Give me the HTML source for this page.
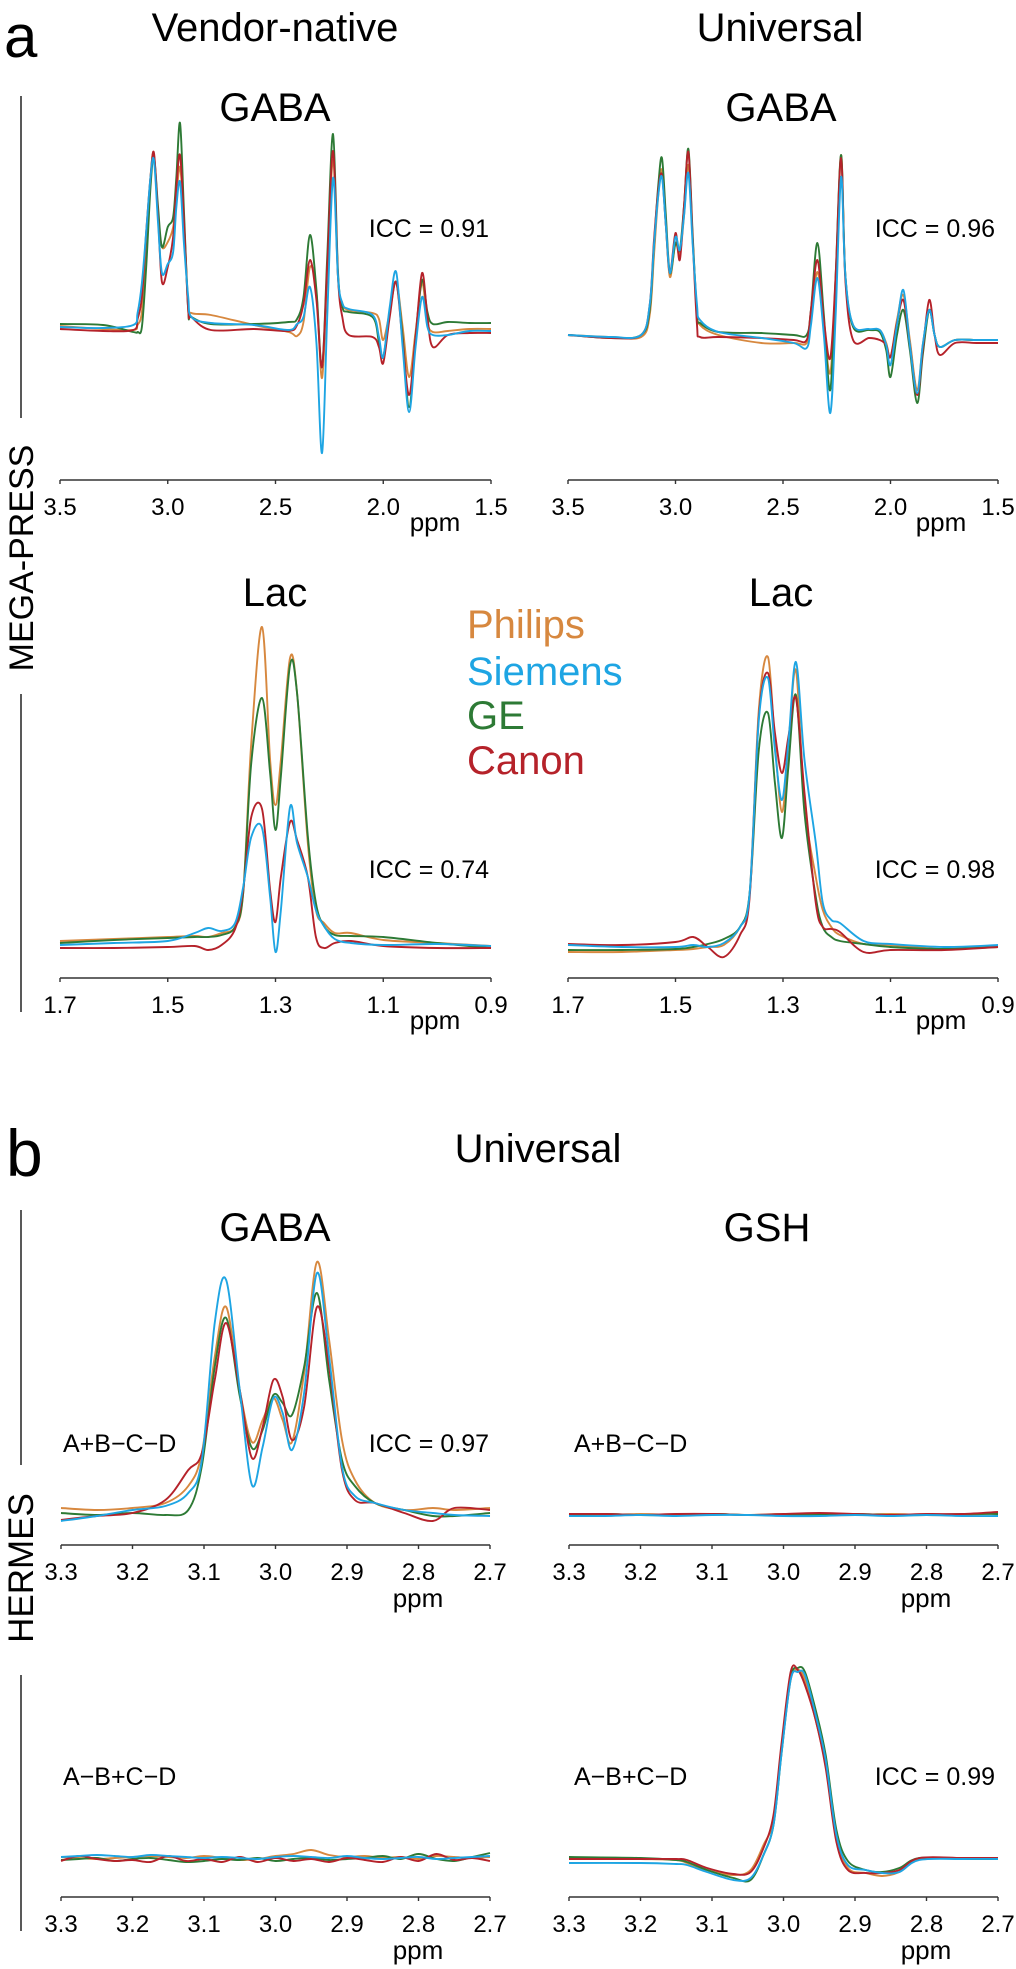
<!DOCTYPE html>
<html><head><meta charset="utf-8"><style>
html,body{margin:0;padding:0;background:#fff;}
svg{display:block;font-family:"Liberation Sans",sans-serif;}
</style></head><body>
<svg id="fig" width="1016" height="1969" viewBox="0 0 1016 1969" xmlns="http://www.w3.org/2000/svg">
<text x="4" y="57" font-size="60">a</text>
<text x="275" y="41" font-size="40" text-anchor="middle">Vendor-native</text>
<text x="780" y="41" font-size="40" text-anchor="middle">Universal</text>
<text x="275" y="121" font-size="40" text-anchor="middle">GABA</text>
<text x="781" y="121" font-size="40" text-anchor="middle">GABA</text>
<text x="275" y="606" font-size="40" text-anchor="middle">Lac</text>
<text x="781" y="606" font-size="40" text-anchor="middle">Lac</text>
<line x1="21" y1="96" x2="21" y2="418" stroke="#222" stroke-width="1.5"/>
<line x1="21" y1="694" x2="21" y2="1012" stroke="#222" stroke-width="1.5"/>
<text transform="translate(33,558) rotate(-90)" font-size="34" text-anchor="middle">MEGA-PRESS</text>
<g>
<text x="467" y="638" font-size="40" fill="#d7883f">Philips</text>
<text x="467" y="685" font-size="40" fill="#1ea5e3">Siemens</text>
<text x="467" y="729" font-size="40" fill="#2d7a35">GE</text>
<text x="467" y="774" font-size="40" fill="#b5222a">Canon</text>
</g>
<text x="489" y="237" font-size="25" text-anchor="end">ICC = 0.91</text>
<text x="995" y="237" font-size="25" text-anchor="end">ICC = 0.96</text>
<text x="489" y="878" font-size="25" text-anchor="end">ICC = 0.74</text>
<text x="995" y="878" font-size="25" text-anchor="end">ICC = 0.98</text>
<text x="6" y="1176" font-size="66">b</text>
<text x="538" y="1162" font-size="40" text-anchor="middle">Universal</text>
<text x="275" y="1241" font-size="40" text-anchor="middle">GABA</text>
<text x="767" y="1241" font-size="40" text-anchor="middle">GSH</text>
<line x1="21" y1="1210" x2="21" y2="1465" stroke="#222" stroke-width="1.5"/>
<line x1="21" y1="1675" x2="21" y2="1931" stroke="#222" stroke-width="1.5"/>
<text transform="translate(33,1568) rotate(-90)" font-size="35" text-anchor="middle">HERMES</text>
<text x="63" y="1452" font-size="25">A+B−C−D</text>
<text x="489" y="1452" font-size="25" text-anchor="end">ICC = 0.97</text>
<text x="574" y="1452" font-size="25">A+B−C−D</text>
<text x="63" y="1785" font-size="25">A−B+C−D</text>
<text x="574" y="1785" font-size="25">A−B+C−D</text>
<text x="995" y="1785" font-size="25" text-anchor="end">ICC = 0.99</text>
</svg>
<script>
// ---- data (ppm positions and intensities in a.u. above baseline) ----
const vendors = ["Philips","GE","Canon","Siemens"];
const vendorColors = ["#d7883f","#2d7a35","#b5222a","#1ea5e3"];
const ticksGaba = [3.5,3.0,2.5,2.0,1.5];
const ticksLac = [1.7,1.5,1.3,1.1,0.9];
const ticksHermes = [3.3,3.2,3.1,3.0,2.9,2.8,2.7];

const a1Ppm = [3.50,3.30,3.16,3.14,3.12,3.10,3.08,3.064,3.045,3.027,3.00,2.975,2.96,2.943,2.925,2.905,2.89,2.80,2.60,2.44,2.40,2.37,2.34,2.31,2.284,2.26,2.233,2.21,2.19,2.16,2.05,2.02,2.00,1.97,1.94,1.91,1.88,1.85,1.82,1.795,1.77,1.70,1.60,1.50];
const a1Philips = [1,-2,-3,2,15,70,150,172,110,80,85,100,130,160,107,24,14,12,2,-5,-9,5,60,34,-51,55,167,50,24,17,14,8,-13,15,45,0,-50,-5,44,5,-5,-4,-2,-2];
const a1GE = [3,2,-5,-5,0,60,140,170,120,80,100,110,150,204,117,17,10,3,3,5,8,30,92,37,-40,70,193,55,20,15,10,-15,-30,15,45,-10,-80,-10,47,15,3,5,4,4];
const a1Canon = [-2,-4,-3,8,30,95,150,174,110,45,60,90,140,172,107,17,10,-3,-2,-4,2,23,67,27,-40,60,176,50,10,-8,-10,-20,-36,10,45,-15,-68,-10,54,10,-20,-8,-6,-6];
const a1Siemens = [0,-1,2,14,44,95,150,167,104,54,63,75,120,145,84,30,10,4,2,-3,3,10,40,-16,-126,10,149,50,24,18,12,-10,-30,20,55,-20,-85,-20,30,0,-8,-8,-4,-4];

const a2Ppm = [3.50,3.30,3.16,3.12,3.10,3.08,3.063,3.045,3.026,3.00,2.98,2.96,2.94,2.92,2.90,2.886,2.80,2.60,2.45,2.39,2.37,2.34,2.31,2.28,2.255,2.23,2.21,2.174,2.10,2.05,2.02,2.00,1.97,1.94,1.91,1.876,1.85,1.82,1.795,1.77,1.70,1.60,1.50];
const a2Philips = [0,-2,-2,20,80,140,165,110,58,92,80,120,170,95,25,10,0,-8,-8,-8,15,63,10,-38,50,180,60,10,5,5,-8,-22,15,40,-5,-55,-10,25,0,-12,-5,-5,-5];
const a2GE = [0,-3,0,25,90,150,177,120,62,92,85,130,186,100,20,12,3,2,0,0,25,92,20,-55,60,180,60,8,5,3,-15,-42,0,25,-15,-68,-20,25,0,-12,-5,-5,-5];
const a2Canon = [0,-3,0,30,95,145,160,110,62,102,75,130,183,95,10,-2,-2,-3,-5,-5,25,75,15,-23,60,177,55,-5,-3,-5,-10,-22,12,35,-10,-60,-15,35,0,-20,-8,-8,-8];
const a2Siemens = [0,-2,0,30,90,140,158,110,62,98,85,120,162,90,30,15,3,-3,-8,-13,10,57,0,-78,20,158,60,10,6,5,-10,-30,10,45,-10,-58,-10,25,0,-12,-5,-5,-5];

const b1Ppm = [1.70,1.60,1.50,1.45,1.425,1.40,1.375,1.36,1.345,1.325,1.31,1.30,1.29,1.273,1.26,1.24,1.225,1.21,1.19,1.16,1.10,1.00,0.90];
const b1Philips = [2,4,6,7,6,10,16,50,200,316,183,138,183,285,250,100,33,20,10,10,3,0,-3];
const b1GE = [0,3,5,6,6,8,16,50,180,245,170,113,167,278,250,107,40,17,8,7,6,0,-5];
const b1Canon = [-5,-5,-4,-3,-7,-2,14,53,126,134,53,21,66,121,103,66,6,-5,0,2,-3,-5,-5];
const b1Siemens = [-2,0,2,10,15,12,20,56,106,115,46,-9,33,136,100,66,33,17,4,0,-2,-1,-3];

const b2Ppm = [1.70,1.60,1.50,1.467,1.44,1.41,1.38,1.362,1.345,1.328,1.315,1.302,1.29,1.276,1.26,1.239,1.226,1.21,1.194,1.15,1.10,1.00,0.90];
const b2Philips = [-5,-5,-3,-2,0,2,20,54,237,290,204,135,197,277,143,70,37,20,12,3,2,-2,1];
const b2GE = [-3,-3,-2,0,3,8,20,54,197,234,164,109,180,252,134,50,20,10,6,3,0,-2,0];
const b2Canon = [3,2,5,10,0,-10,12,50,230,274,214,174,210,249,154,44,20,18,15,-5,-3,-3,0];
const b2Siemens = [2,0,0,2,0,4,20,54,227,269,197,147,204,285,187,104,44,27,24,6,3,0,2];

const c1Ppm = [3.30,3.25,3.20,3.154,3.122,3.103,3.085,3.069,3.05,3.033,3.018,3.003,2.99,2.977,2.96,2.942,2.925,2.907,2.889,2.861,2.82,2.78,2.75,2.70];
const c1Philips = [5,3,5,10,27,60,156,206,123,71,93,115,93,71,140,251,173,73,33,10,3,5,3,5];
const c1GE = [0,-2,0,-2,3,47,146,195,117,65,83,118,110,98,146,220,133,53,27,10,3,-3,-3,0];
const c1Canon = [-7,-3,0,13,43,60,133,190,123,55,86,133,116,73,106,206,146,43,13,10,0,-8,5,3];
const c1Siemens = [-8,-3,3,7,20,53,190,233,123,28,66,115,100,63,120,240,156,46,17,10,3,0,-2,-3];

const c2Ppm = [3.30,3.25,3.20,3.15,3.10,3.05,3.00,2.95,2.90,2.85,2.80,2.75,2.70];
const c2Philips = [1,0,1,0,1,0,1,0,0,1,0,0,2];
const c2GE = [0,1,0,0,1,0,0,0,1,0,0,1,1];
const c2Canon = [1,1,0,1,1,0,1,2,1,0,1,1,3];
const c2Siemens = [-1,-1,0,-1,0,0,-1,-1,0,-1,0,-1,-1];

const c3Ppm = [3.300,3.275,3.250,3.225,3.200,3.175,3.150,3.125,3.100,3.075,3.050,3.025,3.000,2.975,2.950,2.925,2.900,2.875,2.850,2.825,2.800,2.775,2.750,2.725,2.700];
const c3Philips = [1,0,-1,0,1,2,1,0,2,0,-2,-1,2,4,8,3,1,2,0,1,-1,2,1,0,1];
const c3GE = [-2,-1,0,-3,-1,0,-2,-4,-3,-1,-2,0,-3,-1,0,-2,-1,0,2,-1,4,-1,-3,1,5];
const c3Canon = [-3,2,-1,-3,-2,-4,2,-3,-1,-4,1,-4,0,-3,-1,-4,0,-2,-4,1,-3,4,-2,0,-3];
const c3Siemens = [1,2,3,2,1,3,2,1,0,1,0,-1,1,2,1,0,2,0,-1,0,1,-1,0,1,2];

const c4Ppm = [3.30,3.20,3.15,3.135,3.107,3.07,3.046,3.028,3.014,3.003,2.99,2.98,2.97,2.955,2.941,2.926,2.91,2.885,2.862,2.838,2.81,2.75,2.70];
const c4Philips = [2,1,0,-3,-10,-15,-10,15,40,110,180,190,180,140,95,25,-8,-13,-16,-12,1,2,2];
const c4GE = [3,2,0,-2,-10,-18,-20,5,35,105,182,192,188,150,105,30,-1,-10,-12,-8,2,1,1];
const c4Canon = [1,1,1,0,-8,-14,-12,12,45,115,188,190,175,140,92,18,-10,-13,-13,-10,2,2,2];
const c4Siemens = [-3,-3,-4,-5,-12,-20,-18,5,35,105,180,188,185,145,100,25,-5,-10,-13,-12,0,1,1];

// ---- drawing ----
const NS = "http://www.w3.org/2000/svg";
const svg = document.getElementById("fig");
function mk(tag, attrs){ const e=document.createElementNS(NS,tag); for(const k in attrs) e.setAttribute(k,attrs[k]); return e; }

function makeX(x0,x1,p0,p1){ return p => x0 + (p0 - p)/(p0 - p1)*(x1 - x0); }
function makeY(base){ return v => base - v; }

function smoothPath(pts){
  let d = "M"+pts[0][0].toFixed(2)+","+pts[0][1].toFixed(2);
  for(let i=0;i<pts.length-1;i++){
    const p0=pts[i-1]||pts[i], p1=pts[i], p2=pts[i+1], p3=pts[i+2]||pts[i+1];
    const c1x=p1[0]+(p2[0]-p0[0])/6, c1y=p1[1]+(p2[1]-p0[1])/6;
    const c2x=p2[0]-(p3[0]-p1[0])/6, c2y=p2[1]-(p3[1]-p1[1])/6;
    d+=" C"+c1x.toFixed(2)+","+c1y.toFixed(2)+" "+c2x.toFixed(2)+","+c2y.toFixed(2)+" "+p2[0].toFixed(2)+","+p2[1].toFixed(2);
  }
  return d;
}

function drawPlot(name, cfg, ppm, seriesList, ticks){
  const g = mk("g",{});
  
  
  svg.appendChild(g);
  const X = makeX(cfg.x0,cfg.x1,cfg.p0,cfg.p1);
  const Y = makeY(cfg.base);
  // axis
  const ax = mk("line",{x1:cfg.x0,y1:cfg.axisY,x2:cfg.x1,y2:cfg.axisY,stroke:"#333","stroke-width":1.4});
  
  
  g.appendChild(ax);
  ticks.forEach(t=>{
    const tx = X(t);
    const tl = mk("line",{x1:tx,y1:cfg.axisY,x2:tx,y2:cfg.axisY+4,stroke:"#333","stroke-width":1.4});
    
    
    g.appendChild(tl);
    const lb = mk("text",{x:tx,y:cfg.axisY+35,"font-size":24,"text-anchor":"middle"});
    lb.textContent = t.toFixed(1);
    
    
    g.appendChild(lb);
  });
  const pp = mk("text",{x:cfg.ppmX,y:cfg.axisY+cfg.ppmDy,"font-size":26,"text-anchor":"middle"});
  pp.textContent = "ppm";
  
  
  g.appendChild(pp);
  seriesList.forEach((vals,i)=>{
    const pts = ppm.map((p,j)=>[X(p),Y(vals[j])]);
    const path = mk("path",{d:smoothPath(pts),fill:"none",stroke:vendorColors[i],"stroke-width":1.9,"stroke-linejoin":"round"});
    
    
    g.appendChild(path);
  });
}

drawPlot("gaba-vendor-native-plot",{x0:60,x1:491,p0:3.5,p1:1.5,base:327,axisY:480,ppmX:435,ppmDy:51},a1Ppm,[a1Philips,a1GE,a1Canon,a1Siemens],ticksGaba);
drawPlot("gaba-universal-plot",{x0:568,x1:998,p0:3.5,p1:1.5,base:335,axisY:480,ppmX:941,ppmDy:51},a2Ppm,[a2Philips,a2GE,a2Canon,a2Siemens],ticksGaba);
drawPlot("lac-vendor-native-plot",{x0:60,x1:491,p0:1.7,p1:0.9,base:943,axisY:978,ppmX:435,ppmDy:51},b1Ppm,[b1Philips,b1GE,b1Canon,b1Siemens],ticksLac);
drawPlot("lac-universal-plot",{x0:568,x1:998,p0:1.7,p1:0.9,base:947,axisY:978,ppmX:941,ppmDy:51},b2Ppm,[b2Philips,b2GE,b2Canon,b2Siemens],ticksLac);
drawPlot("hermes-gaba-sum-plot",{x0:61,x1:490,p0:3.3,p1:2.7,base:1513,axisY:1545,ppmX:418,ppmDy:62},c1Ppm,[c1Philips,c1GE,c1Canon,c1Siemens],ticksHermes);
drawPlot("hermes-gsh-sum-plot",{x0:569,x1:998,p0:3.3,p1:2.7,base:1515,axisY:1545,ppmX:926,ppmDy:62},c2Ppm,[c2Philips,c2GE,c2Canon,c2Siemens],ticksHermes);
drawPlot("hermes-gaba-diff-plot",{x0:61,x1:490,p0:3.3,p1:2.7,base:1858,axisY:1897,ppmX:418,ppmDy:62},c3Ppm,[c3Philips,c3GE,c3Canon,c3Siemens],ticksHermes);
drawPlot("hermes-gsh-diff-plot",{x0:569,x1:998,p0:3.3,p1:2.7,base:1860,axisY:1897,ppmX:926,ppmDy:62},c4Ppm,[c4Philips,c4GE,c4Canon,c4Siemens],ticksHermes);
</script>
</body></html>
